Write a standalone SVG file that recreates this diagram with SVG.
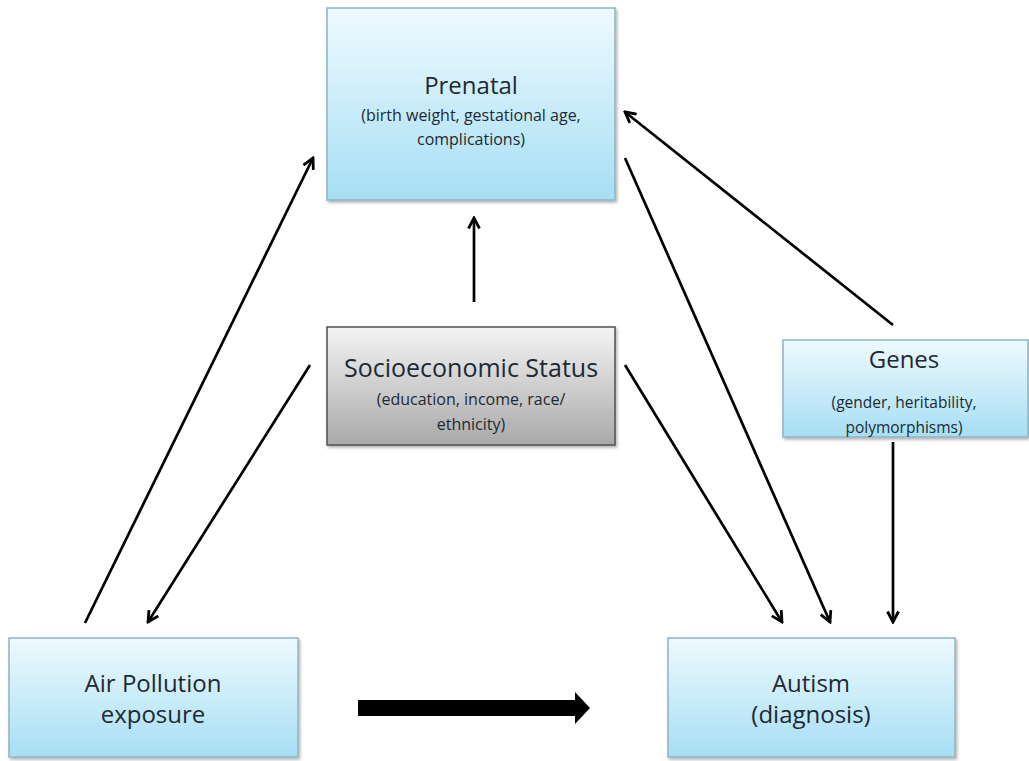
<svg xmlns="http://www.w3.org/2000/svg" width="1029" height="761" viewBox="0 0 1029 761">
<defs>
<linearGradient id="blue" x1="0" y1="0" x2="0" y2="1">
<stop offset="0" stop-color="#eefafe"/>
<stop offset="1" stop-color="#a6def4"/>
</linearGradient>
<linearGradient id="gray" x1="0" y1="0" x2="0" y2="1">
<stop offset="0" stop-color="#f4f4f4"/>
<stop offset="1" stop-color="#a9a9a9"/>
</linearGradient>
<filter id="sh" x="-5%" y="-5%" width="115%" height="115%">
<feDropShadow dx="1.5" dy="2" stdDeviation="1.5" flood-color="#000" flood-opacity="0.3"/>
</filter>
<marker id="ah" viewBox="0 0 14 14" refX="12" refY="7" markerWidth="14" markerHeight="14" markerUnits="userSpaceOnUse" orient="auto">
<path d="M1.5,1.5 L12,7 L1.5,12.5" fill="none" stroke="#000" stroke-width="2.8" stroke-linejoin="miter"/>
</marker>
</defs>
<style>
.box{fill:url(#blue);stroke:#8fb4c2;stroke-width:1.5;filter:url(#sh)}
.gbox{fill:url(#gray);stroke:#505050;stroke-width:1.5;filter:url(#sh)}
text{font-family:"Open Sans","Liberation Sans",sans-serif;fill:#1d2a33;text-anchor:middle}
.t{font-size:24px}
.s{font-size:16px}
.c line{stroke:#000;stroke-width:2.7;marker-end:url(#ah)}
</style>
<g id="prenatal">
<rect class="box" x="327" y="8" width="288" height="192"/>
<text class="t" x="471" y="94">Prenatal</text>
<text class="s" x="471" y="121">(birth weight, gestational age,</text>
<text class="s" x="471" y="145">complications)</text>
</g>
<g id="ses">
<rect class="gbox" x="327" y="327" width="288" height="118"/>
<text class="t" x="471" y="377" style="font-size:25px">Socioeconomic Status</text>
<text class="s" x="471" y="405">(education, income, race/</text>
<text class="s" x="471" y="430">ethnicity)</text>
</g>
<g id="genes">
<rect class="box" x="783" y="340" width="245" height="97"/>
<text class="t" x="904" y="368">Genes</text>
<text class="s" x="904" y="408" style="font-size:15.5px">(gender, heritability,</text>
<text class="s" x="904" y="433" style="font-size:15.5px">polymorphisms)</text>
</g>
<g id="air">
<rect class="box" x="9" y="638" width="289" height="119"/>
<text class="t" x="153" y="692">Air Pollution</text>
<text class="t" x="153" y="723">exposure</text>
</g>
<g id="autism">
<rect class="box" x="668" y="638" width="287" height="119"/>
<text class="t" x="811" y="692">Autism</text>
<text class="t" x="811" y="723">(diagnosis)</text>
</g>
<g id="connectors" class="c">
<line x1="85" y1="623" x2="313" y2="158"/>
<line x1="474" y1="302" x2="474" y2="218"/>
<line x1="893" y1="325" x2="625" y2="112"/>
<line x1="310" y1="365" x2="148" y2="622"/>
<line x1="625" y1="365" x2="782" y2="622"/>
<line x1="625" y1="158" x2="830" y2="622"/>
<line x1="893" y1="442" x2="893" y2="622"/>
<path d="M358,700 L575,700 L575,692 L590,708 L575,724 L575,716 L358,716 Z" fill="#000"/>
</g>
</svg>
